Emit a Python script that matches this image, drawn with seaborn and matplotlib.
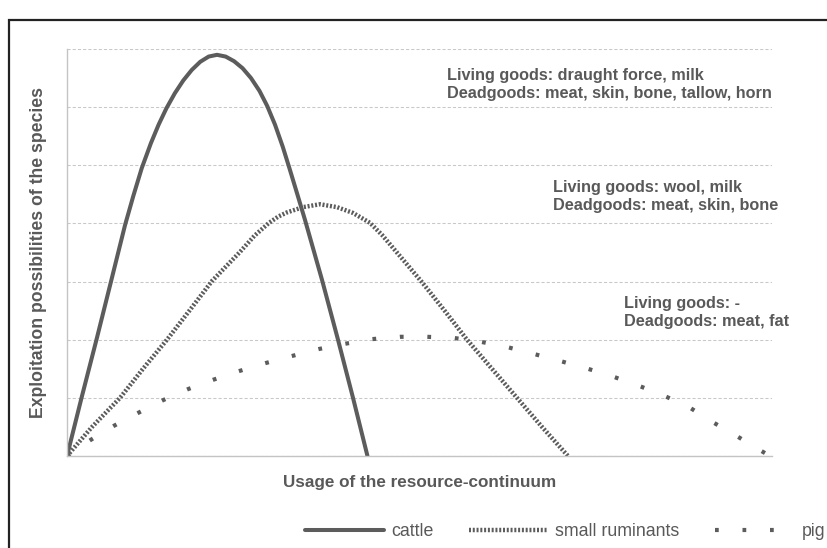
import matplotlib
matplotlib.use("Agg")
import seaborn as sns
import matplotlib.pyplot as plt
from matplotlib.patches import Rectangle

# values (x: 0-100 along the continuum, y: 0-7 grid steps)
cattle_x = [0, 2.06, 4.18, 6.24, 8.23, 9.4, 10.6, 11.9, 13.0, 14.1, 15.3, 16.5, 17.7, 18.9, 20.1,
            21.28, 22.5, 23.7, 24.9, 26.1, 27.3, 28.4, 29.5, 30.6, 31.6, 32.7, 33.76,
            36.17, 38.44, 40.57, 42.62]
cattle_y = [0, 1.0, 2.0, 3.0, 3.97, 4.47, 4.95, 5.38, 5.70, 5.98, 6.24, 6.46, 6.64, 6.78, 6.87,
            6.90, 6.87, 6.79, 6.67, 6.50, 6.28, 6.02, 5.70, 5.32, 4.93, 4.49, 4.06,
            3.03, 2.0, 1.0, 0]

rumin_x = [0, 3.55, 7.52, 10.78, 14.18, 17.30, 20.57, 24.54, 26.6, 28.65, 30.0, 31.21, 33.48,
           35.89, 38.30, 40.57, 42.98, 44.7, 46.38, 50.35, 53.62, 56.74, 60.28, 63.83,
           67.38, 71.06]
rumin_y = [0, 0.50, 1.0, 1.50, 2.0, 2.49, 3.01, 3.51, 3.79, 4.01, 4.12, 4.19, 4.28,
           4.33, 4.28, 4.18, 4.01, 3.80, 3.56, 2.99, 2.49, 2.0, 1.50, 1.0,
           0.50, 0]

pig_x = [0, 3.40, 6.67, 10.07, 13.62, 17.16, 20.71, 24.40, 28.23, 31.91, 35.74, 39.43, 43.26,
         47.23, 51.06, 54.89, 58.87, 62.55, 66.38, 70.07, 73.90, 77.59, 81.28, 84.82, 88.37,
         91.63, 95.04, 98.30, 99.72]
pig_y = [0, 0.28, 0.52, 0.74, 0.96, 1.15, 1.31, 1.46, 1.60, 1.72, 1.84, 1.93, 2.01,
         2.05, 2.05, 2.03, 1.96, 1.87, 1.75, 1.63, 1.50, 1.36, 1.20, 1.03, 0.83,
         0.58, 0.34, 0.10, 0]

labels = ["cattle", "small ruminants", "pig"]
notes = ["Living goods: draught force, milk\nDeadgoods: meat, skin, bone, tallow, horn",
         "Living goods: wool, milk\nDeadgoods: meat, skin, bone",
         "Living goods: -\nDeadgoods: meat, fat"]

sns.set_style("white")
plt.rcParams['font.family'] = ['Liberation Sans', 'DejaVu Sans']

line_col = '#5c5c5c'
text_col = '#595959'

fig = plt.figure(figsize=(8.28, 5.48), dpi=100)
ax = fig.add_axes([67/828, 1 - 456/548, 705/828, 407/548])

sns.lineplot(x=cattle_x, y=cattle_y, ax=ax, color=line_col, lw=2.9, sort=False,
             label=labels[0], linestyle='-')
sns.lineplot(x=rumin_x, y=rumin_y, ax=ax, color=line_col, lw=3.2, sort=False,
             label=labels[1], linestyle=(0, (0.45, 0.4)))
sns.lineplot(x=pig_x, y=pig_y, ax=ax, color=line_col, lw=3.0, sort=False,
             label=labels[2], linestyle=(0, (0.9, 5.7)))

ax.set_xlim(0, 100)
ax.set_ylim(0, 7)
ax.set_yticks(range(0, 8))
ax.set_xticks([])
ax.tick_params(length=0, labelleft=False, labelbottom=False)
ax.set_axisbelow(True)
ax.yaxis.grid(True, color='#c8c8c8', linestyle=(0, (3, 2)), lw=0.75)
ax.xaxis.grid(False)
for s in ['top', 'right']:
    ax.spines[s].set_visible(False)
for s in ['left', 'bottom']:
    ax.spines[s].set_color('#c4c4c4')
    ax.spines[s].set_linewidth(1)

ax.set_xlabel("Usage of the resource-continuum", fontsize=12.3, fontweight='bold', color=text_col)
ax.set_ylabel("Exploitation possibilities of the species", fontsize=12.7, fontweight='bold', color=text_col)
ax.xaxis.set_label_coords(0.5, -0.046)
ax.yaxis.set_label_coords(-0.029, 0.5)

note_pos = [(0.5386, 0.912), (0.690, 0.638), (0.790, 0.352)]
for (nx, ny), t in zip(note_pos, notes):
    ax.text(nx, ny, t, transform=ax.transAxes, fontsize=11.7, fontweight='bold',
            color=text_col, ha='left', va='center', linespacing=1.25)

handles, labs = ax.get_legend_handles_labels()
ax.get_legend().remove()
fig.legend(handles, labs, loc='center left', bbox_to_anchor=(298/828, 1 - 532/548),
           ncol=3, frameon=False, fontsize=12.8, labelcolor=text_col,
           handlelength=4.45, handletextpad=0.4, columnspacing=2.0, borderaxespad=0)

# chart frame (cut off on the right and bottom in the source)
fig.add_artist(Rectangle((9/828, -0.2), 1.5, 1 - 20/548 + 0.2, transform=fig.transFigure,
                         fill=False, ec='#222222', lw=1.6))

fig.savefig("out.png", dpi=100)
